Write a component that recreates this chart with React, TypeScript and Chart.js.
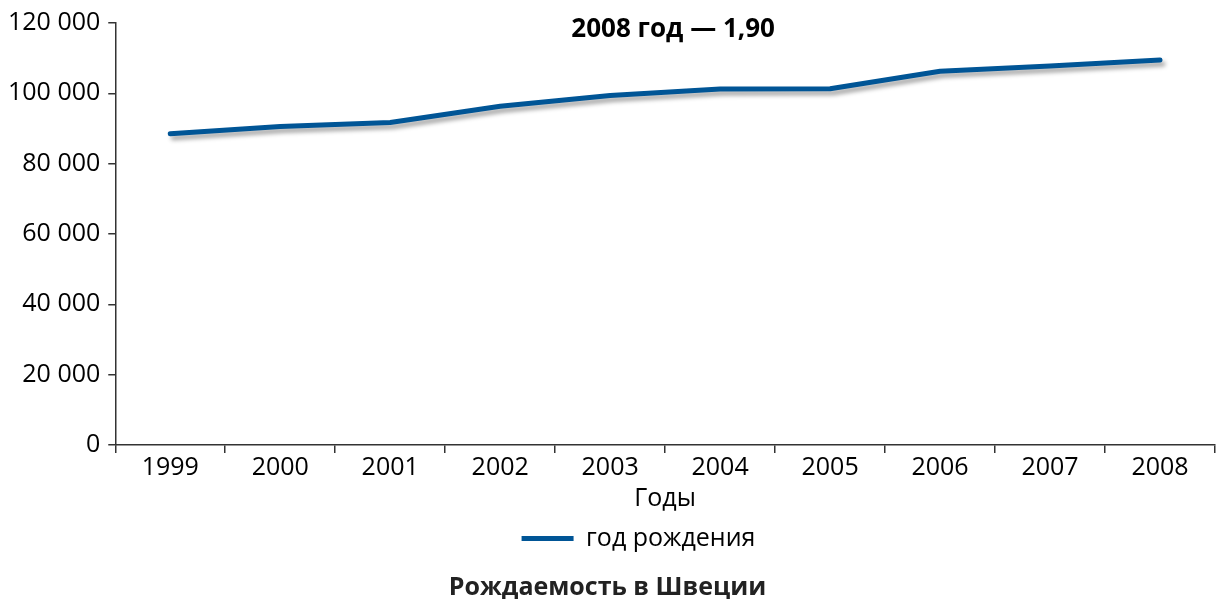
import React, { useEffect, useRef } from "react";
import { Chart, registerables } from "chart.js";

Chart.register(...registerables);

const years = ["1999", "2000", "2001", "2002", "2003", "2004", "2005", "2006", "2007", "2008"];
const births = [88500, 90600, 91700, 96300, 99400, 101200, 101300, 106300, 107800, 109500];
const seriesLabel = "год рождения";
const axisTitle = "Годы";
const chartTitle = "Рождаемость в Швеции";
const note = "2008 год — 1,90";
const yMax = 120000;
const yStep = 20000;

const LINE = "#005596";
const FONT = "'Open Sans', 'Noto Sans', sans-serif";

const fmt = (v: number) => String(v).replace(/\B(?=(\d{3})+(?!\d))/g, " ");

const shadowPlugin = {
  id: "lineShadow",
  beforeDatasetsDraw(chart: any) {
    const ctx = chart.ctx;
    ctx.save();
    ctx.shadowColor = "rgba(0,0,0,0.35)";
    ctx.shadowBlur = 4;
    ctx.shadowOffsetX = 3;
    ctx.shadowOffsetY = 4;
  },
  afterDatasetsDraw(chart: any) {
    chart.ctx.restore();
  },
};

const notePlugin = {
  id: "noteText",
  afterDraw(chart: any) {
    const { ctx, chartArea } = chart;
    ctx.save();
    ctx.font = `bold 26px ${FONT}`;
    ctx.fillStyle = "#000";
    ctx.textAlign = "center";
    ctx.textBaseline = "middle";
    ctx.fillText(note, (chartArea.left + chartArea.right) / 2 + 8, 30);
    ctx.restore();
  },
};

const legendShift = {
  id: "legendShift",
  afterLayout(chart: any) {
    const lg = chart.legend;
    if (lg) {
      lg.left += 31;
      lg.right += 31;
    }
  },
};

export default function App() {
  const ref = useRef<HTMLCanvasElement | null>(null);
  useEffect(() => {
    if (!ref.current) return;
    const chart = new Chart(ref.current, {
      type: "line",
      data: {
        labels: years,
        datasets: [
          {
            label: seriesLabel,
            data: births,
            borderColor: LINE,
            backgroundColor: LINE,
            borderWidth: 5,
            borderCapStyle: "round",
            borderJoinStyle: "round",
            pointRadius: 0,
            tension: 0,
          },
        ],
      },
      options: {
        animation: false,
        responsive: true,
        maintainAspectRatio: false,
        layout: { padding: { top: 6, right: 4, left: 0, bottom: 0 } },
        scales: {
          x: {
            type: "category",
            offset: true,
            grid: { offset: true, drawOnChartArea: false, drawTicks: true, tickLength: 8, color: "#333", lineWidth: 1.5 },
            border: { color: "#333", width: 1.5 },
            ticks: { color: "#000", font: { family: FONT, size: 25 }, padding: 0, maxRotation: 0, autoSkip: false },
            title: { display: true, text: axisTitle, color: "#000", font: { family: FONT, size: 25 }, padding: { top: 1, bottom: 4 } },
          },
          y: {
            min: 0,
            max: yMax,
            grid: { drawOnChartArea: false, drawTicks: true, tickLength: 7, color: "#333", lineWidth: 1.5 },
            border: { color: "#333", width: 1.5 },
            ticks: { stepSize: yStep, color: "#000", font: { family: FONT, size: 25 }, padding: 8, callback: (v: any) => fmt(Number(v)) },
          },
        },
        plugins: {
          legend: {
            display: true,
            position: "bottom",
            labels: {
              color: "#000",
              font: { family: FONT, size: 25 },
              boxWidth: 52,
              boxHeight: 5,
              padding: 8,
              generateLabels: (c: any) =>
                Chart.defaults.plugins.legend.labels.generateLabels(c).map((l: any) => ({ ...l, lineWidth: 0, fillStyle: LINE })),
            },
          },
          title: {
            display: true,
            position: "bottom",
            text: chartTitle,
            color: "#222",
            font: { family: FONT, size: 25, weight: "bold" },
            padding: { top: 12, bottom: -4 },
          },
          tooltip: { enabled: false },
        },
      },
      plugins: [shadowPlugin, notePlugin, legendShift],
    } as any);
    return () => chart.destroy();
  }, []);
  return (
    <div style={{ position: "fixed", left: 0, top: 0, width: 1219, height: 599, background: "#fff" }}>
      <canvas ref={ref} />
    </div>
  );
}
